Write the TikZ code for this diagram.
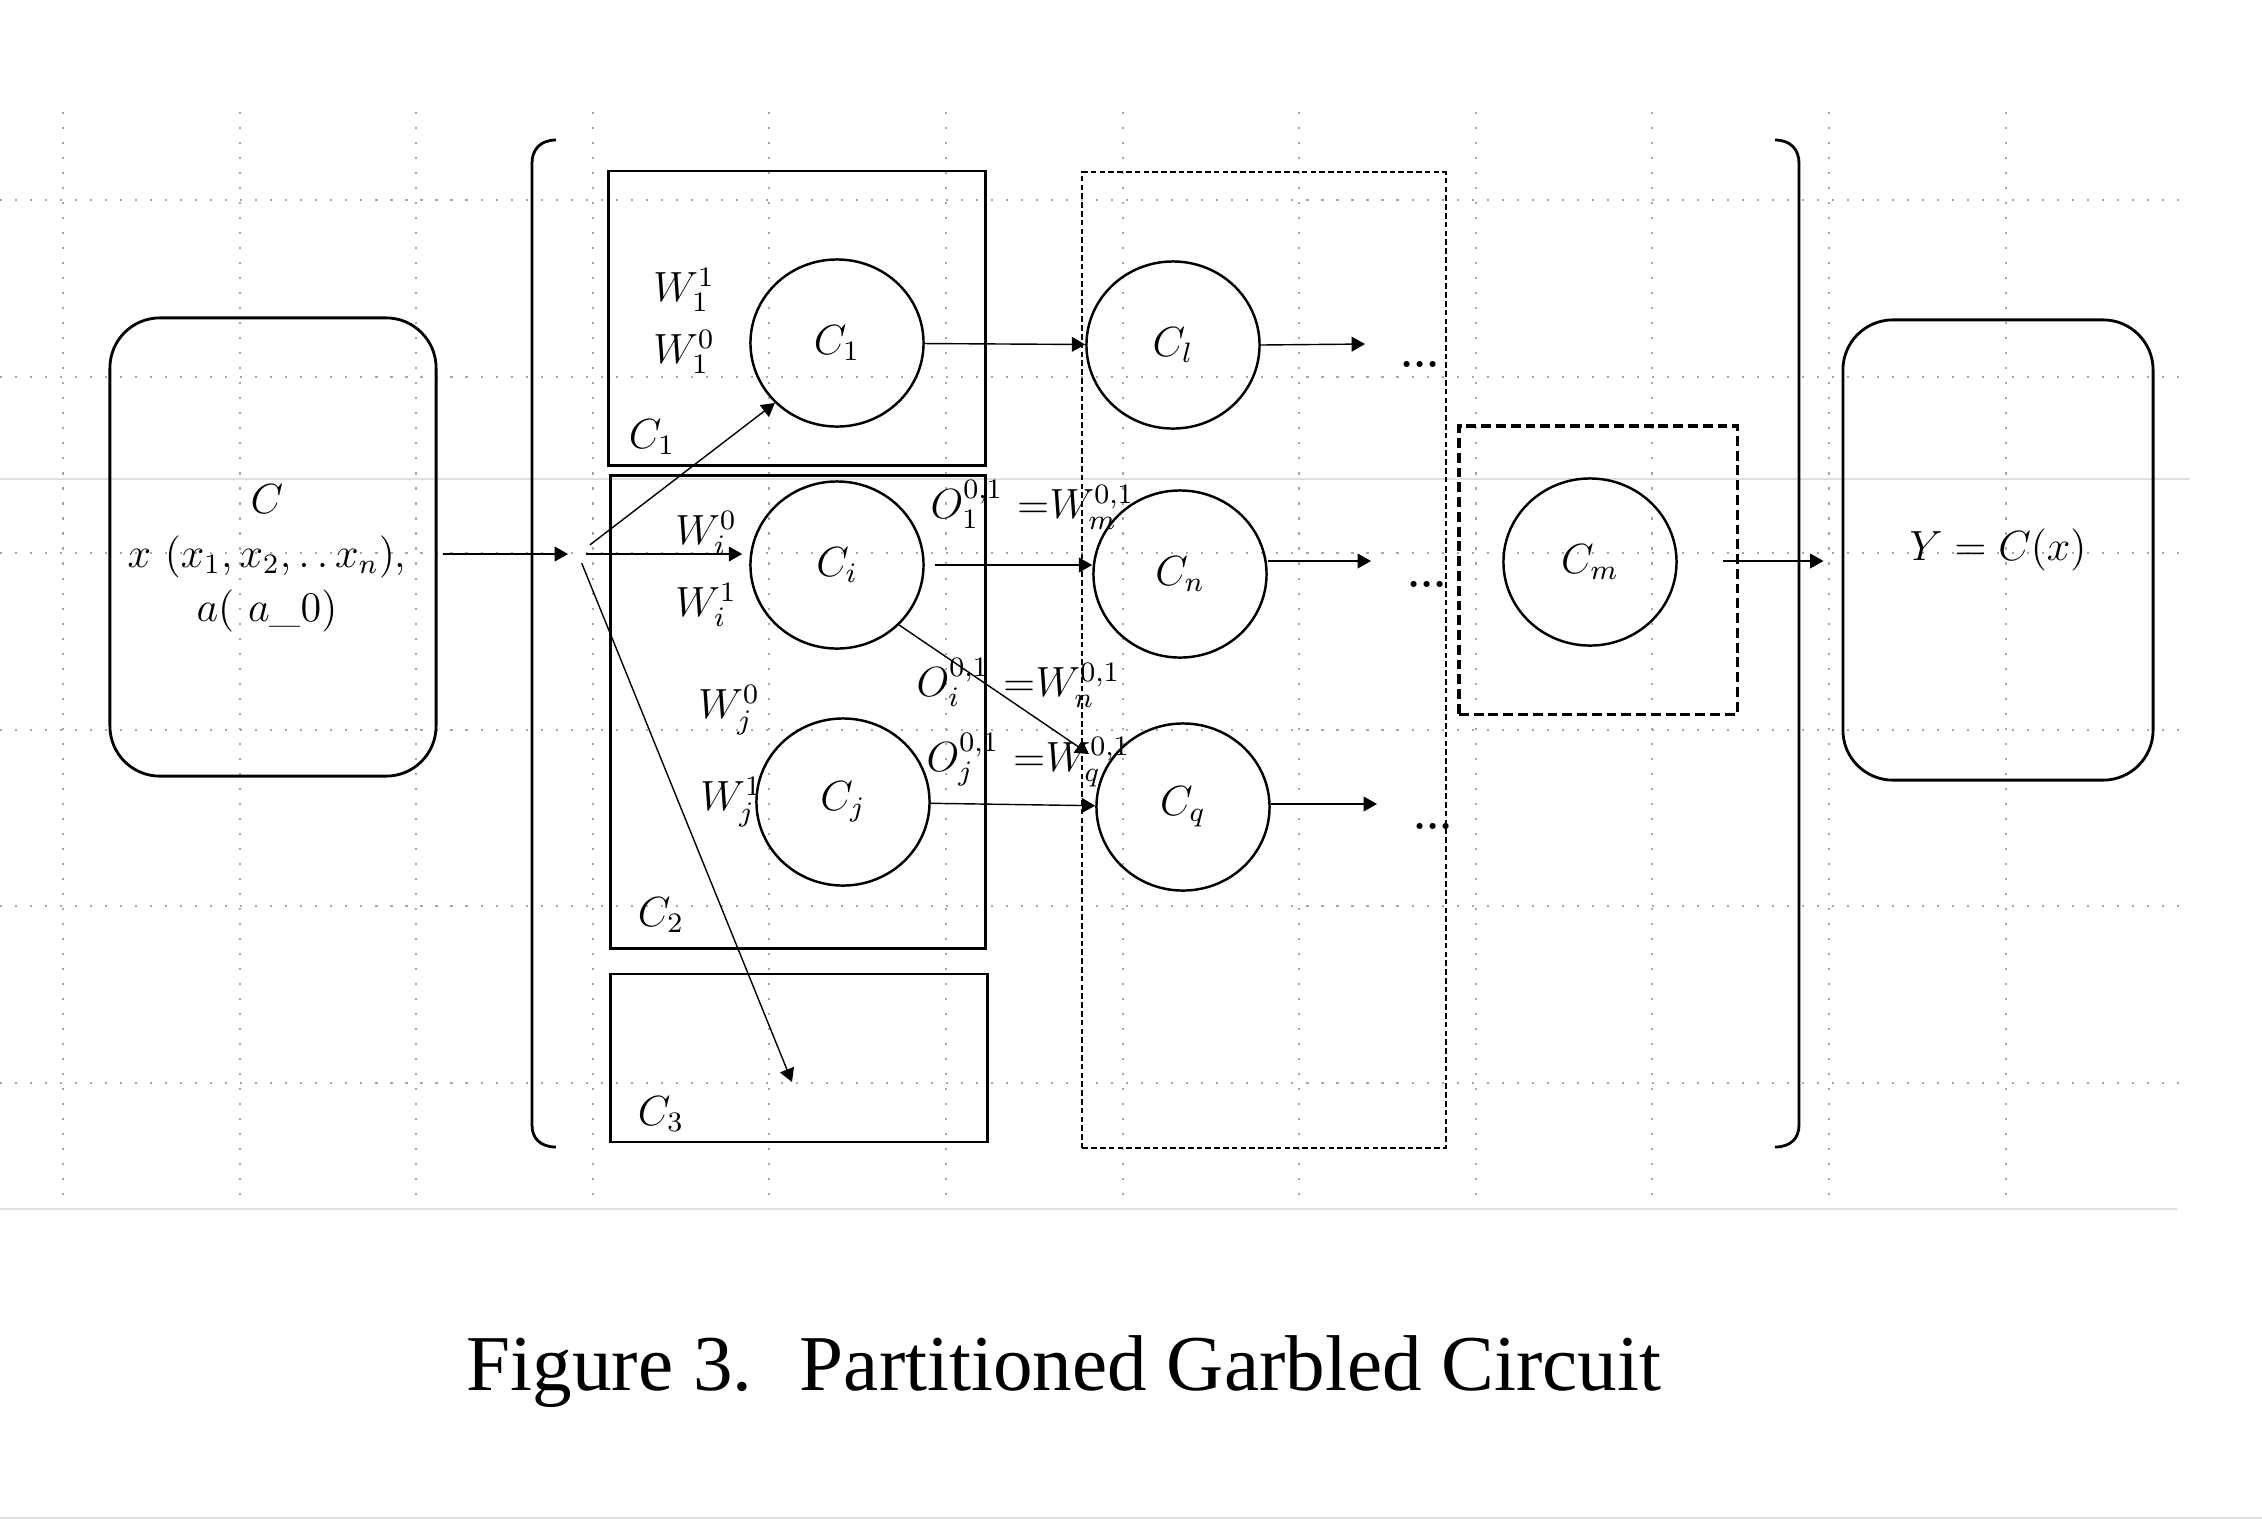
\documentclass[tikz,border=0pt]{standalone}
\usepackage{fontspec}
\newfontfamily\capfont{Liberation Serif}
\usetikzlibrary{shapes.geometric,arrows.meta,positioning}

\begin{document}
\begin{tikzpicture}[x=0.01cm,y=-0.01cm,font=\fontsize{12}{15}\selectfont,
    >={Triangle[length=3.8pt,width=4.2pt]},
    gridline/.style={gray!70, line width=0.6pt, dash pattern=on 0.6pt off 3.67pt},
    sheetline/.style={gray!25, line width=0.4pt},
    gate/.style={draw, ellipse, line width=0.7pt, minimum width=1.73cm, minimum height=1.67cm, inner sep=0pt},
    part/.style={draw, rectangle, line width=0.8pt, inner sep=0pt},
    stage/.style={draw, rectangle, line width=0.6pt, dash pattern=on 1.6pt off 0.9pt, inner sep=0pt},
    block/.style={draw, rectangle, line width=0.9pt, dash pattern=on 2.8pt off 1.4pt, inner sep=0pt},
    io/.style={draw, rectangle, rounded corners=0.5cm, line width=0.8pt, inner sep=0pt},
    wire/.style={->, line width=0.4pt},
    brkt/.style={line width=0.8pt}]

    \useasboundingbox (0,0) rectangle (2262,1520);

    % sheet grid
    \foreach \gx in {0,...,11}
        \draw[gridline] (63+176.6*\gx,112) -- (63+176.6*\gx,1200);
    \foreach \gy in {0,...,5}
        \draw[gridline] (0,200+176.6*\gy) -- (2182,200+176.6*\gy);
    \draw[sheetline] (0,479) -- (2190,479);
    \draw[sheetline] (0,1209) -- (2177,1209);
    \draw[sheetline] (0,1518) -- (2262,1518);

    %------------------------------------------------

    \node[io, minimum width=3.26cm, minimum height=4.58cm] (input) at (273,547)
    {};

    \node[align=center, font=\fontsize{12}{15.4}\selectfont] (inputtext) at (267,558)
    { $C$ \\ $x\ (x_1,x_2,.\,.\,x_n)$, \\ $a(\ a\_0)$ };

    \node[io, minimum width=3.1cm, minimum height=4.6cm] (output) at (1998,550)
    { $Y = C(x)$ };

    %------------------------------------------------

    \node[part, minimum width=3.76cm, minimum height=2.94cm] (P1) at (797,318)
    {};

    \node[part, minimum width=3.75cm, minimum height=4.72cm] (P2) at (798,712)
    {};

    \node[part, minimum width=3.76cm, minimum height=1.68cm] (P3) at (799,1058)
    {};

    \node[stage, minimum width=3.63cm, minimum height=9.75cm] (S1) at (1264,660)
    {};

    \node[block, minimum width=2.78cm, minimum height=2.88cm] (S2) at (1598,570)
    {};

    \node (P1lab) at (652,437) { $C_1$ };
    \node (P2lab) at (661,915) { $C_2$ };
    \node (P3lab) at (661,1114) { $C_3$ };

    %------------------------------------------------

    \node[gate] (G1) at (837,343) { $C_1$ };
    \node[gate] (Gi) at (837,565) { $C_i$ };
    \node[gate] (Gj) at (843,802) { $C_j$ };
    \node[gate] (Gl) at (1173,345) { $C_l$ };
    \node[gate] (Gn) at (1180,574) { $C_n$ };
    \node[gate] (Gq) at (1183,807) { $C_q$ };
    \node[gate] (Gm) at (1590,562) { $C_m$ };

    \node (W11) at (684,290) { $W_1^1$ };
    \node (W10) at (684,352) { $W_1^0$ };
    \node (Wi0) at (706,533) { $W_i^0$ };
    \node (Wi1) at (706,605) { $W_i^1$ };
    \node (Wj0) at (729,710) { $W_j^0$ };
    \node (Wj1) at (731,802) { $W_j^1$ };

    \node[anchor=west, inner sep=0pt] (O1) at (930,505) { $O_1^{0,1}$\,\,{=}$W_m^{0,1}$ };
    \node[anchor=west, inner sep=0pt] (Oi) at (916,683) { $O_i^{0,1}$\,\,{=}$W_n^{0,1}$ };
    \node[anchor=west, inner sep=0pt] (Oj) at (926,760) { $O_j^{0,1}$\,\,{=}$W_q^{0,1}$ };

    \node (dl) at (1420,364) { \textbf{...} };
    \node (dn) at (1427,584) { \textbf{...} };
    \node (dq) at (1433,826) { \textbf{...} };

    %------------------------------------------------

    \coordinate (split) at (578,554);
    \coordinate (c3in) at (792,1082);
    \coordinate (qin) at (1089,754);
    \coordinate (lout) at (1365,344);
    \coordinate (nout) at (1371,561);
    \coordinate (qout) at (1377,804);
    \coordinate (mout) at (1723,561);

    \draw[brkt] (556,140) .. controls (540,140) and (532,150) .. (532,163)
        -- (532,1125) .. controls (532,1138) and (540,1147) .. (556,1147);
    \draw[brkt] (1775,140) .. controls (1791,140) and (1799,150) .. (1799,163)
        -- (1799,1125) .. controls (1799,1138) and (1791,1147) .. (1775,1147);

    \path[wire]
    {
        (input.east |- split) edge[shorten <=0.05cm, shorten >=0.1cm] (split)
        (split) edge[shorten <=0.15cm] (G1.south west)
        (split) edge[shorten <=0.08cm, shorten >=0.07cm] (Gi.west |- split)
        (split) edge[shorten <=0.1cm] (c3in)

        (G1) edge (Gl)
        (Gi.east) edge[shorten <=0.1cm] (Gn.west |- Gi.east)
        (Gi.south east) edge (qin)
        (Gj) edge (Gq)

        (Gl.east) edge (lout)
        (Gn.east |- nout) edge (nout)
        (Gq.east |- qout) edge (qout)
        (mout) edge[shorten >=0.18cm] (output.west |- mout)
    };

    \node[anchor=base, font=\capfont\fontsize{22.5}{27}\selectfont] (caption) at (1064,1390)
    { Figure 3.\hspace{0.6em}Partitioned Garbled Circuit };
\end{tikzpicture}
\end{document}
